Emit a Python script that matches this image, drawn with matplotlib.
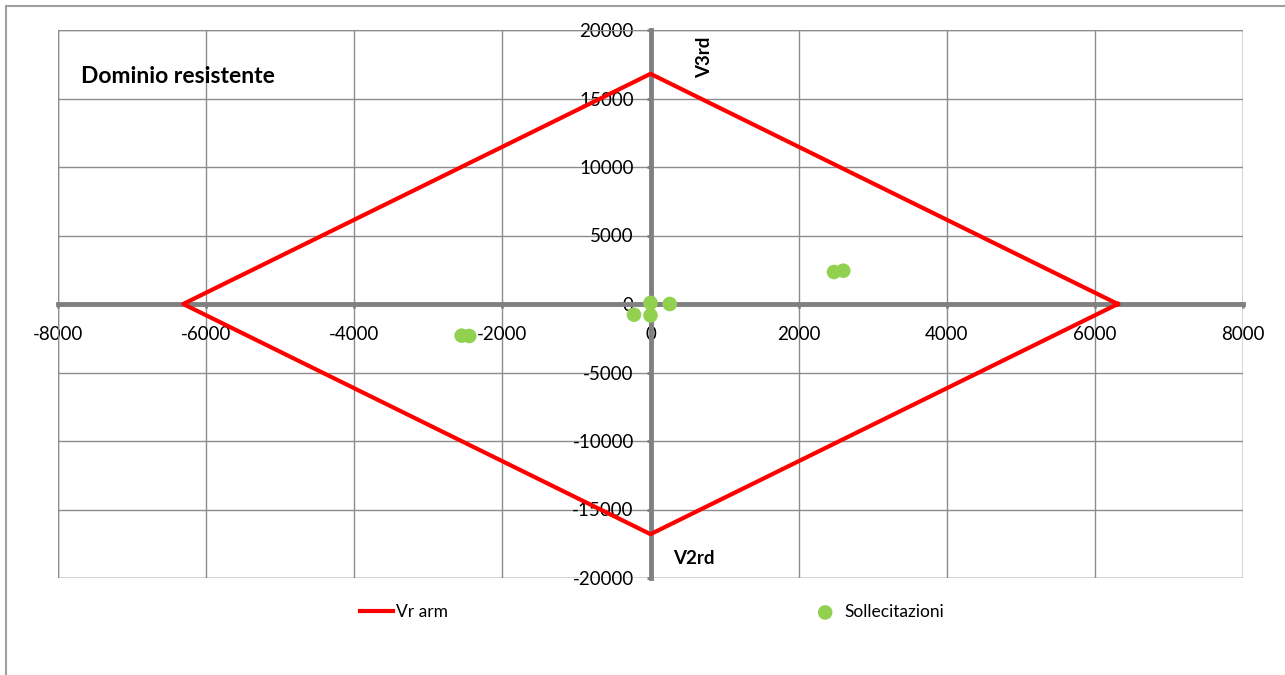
import matplotlib.pyplot as plt
from matplotlib.patches import Rectangle

plt.rcParams['font.family'] = ['Lato', 'DejaVu Sans']
plt.rcParams['axes.unicode_minus'] = False

# dominio resistente (rombo) e sollecitazioni
dom_v2 = [6310, 0, -6310, 0, 6310]
dom_v3 = [0, 16800, 0, -16800, 0]
sol_v2 = [0, 260, -223, 0, -2550, -2447, 2478, 2603]
sol_v3 = [80, 0, -780, -830, -2310, -2336, 2336, 2430]
xticks = list(range(-8000, 8001, 2000))
yticks = list(range(-20000, 20001, 5000))

fig = plt.figure(figsize=(12.85, 6.75), dpi=100)
fig.patches.append(Rectangle((6 / 1285, -0.1), 1.2, 1.1 - 6 / 675, transform=fig.transFigure,
                             fill=False, edgecolor='#a0a0a0', linewidth=1.5))
ax = fig.add_axes([58 / 1285, 97 / 675, 1185 / 1285, 548 / 675])

line, = ax.plot(dom_v2, dom_v3, color='#ff0000', lw=3, zorder=4, label='Vr arm')
pts = ax.scatter(sol_v2, sol_v3, s=110, color='#92d050', zorder=5, label='Sollecitazioni',
                 edgecolors='none')

ax.set_xlim(-8000, 8000)
ax.set_ylim(-20000, 20000)
ax.set_xticks(xticks)
ax.set_yticks(yticks)
ax.grid(True, color='#8c8c8c', lw=1)
ax.set_axisbelow(True)

for side in ['top', 'right']:
    ax.spines[side].set_visible(False)
ax.spines['left'].set_position(('data', 0))
ax.spines['bottom'].set_position(('data', 0))
for side in ['left', 'bottom']:
    ax.spines[side].set_color('#808080')
    ax.spines[side].set_linewidth(3.5)
    ax.spines[side].set_zorder(3)
# bordo area del grafico
ax.add_patch(Rectangle((0, 0), 1, 1, transform=ax.transAxes, fill=False,
                       edgecolor='#8c8c8c', lw=1, zorder=2))

ax.tick_params(axis='both', colors='#808080', labelcolor='black', labelsize=13.5, length=3, width=2)
ax.tick_params(axis='x', pad=13)
ax.tick_params(axis='y', pad=9)

ax.text(0.019, 0.915, 'Dominio resistente', transform=ax.transAxes, fontsize=16.5,
        fontweight='bold', va='center', ha='left')
ax.text(736, 18000, 'V3rd', rotation=90, fontsize=13.5, fontweight='bold', va='center', ha='center')
ax.text(580, -18550, 'V2rd', fontsize=13.5, fontweight='bold', va='center', ha='center')

fig.legend(handles=[line, pts], loc='center', bbox_to_anchor=(652 / 1285, 1 - 612 / 675), ncol=2,
           frameon=False, fontsize=12.5, handlelength=1.9, handletextpad=0.15, columnspacing=20.8,
           scatterpoints=1)

fig.savefig('out.png', dpi=100)
